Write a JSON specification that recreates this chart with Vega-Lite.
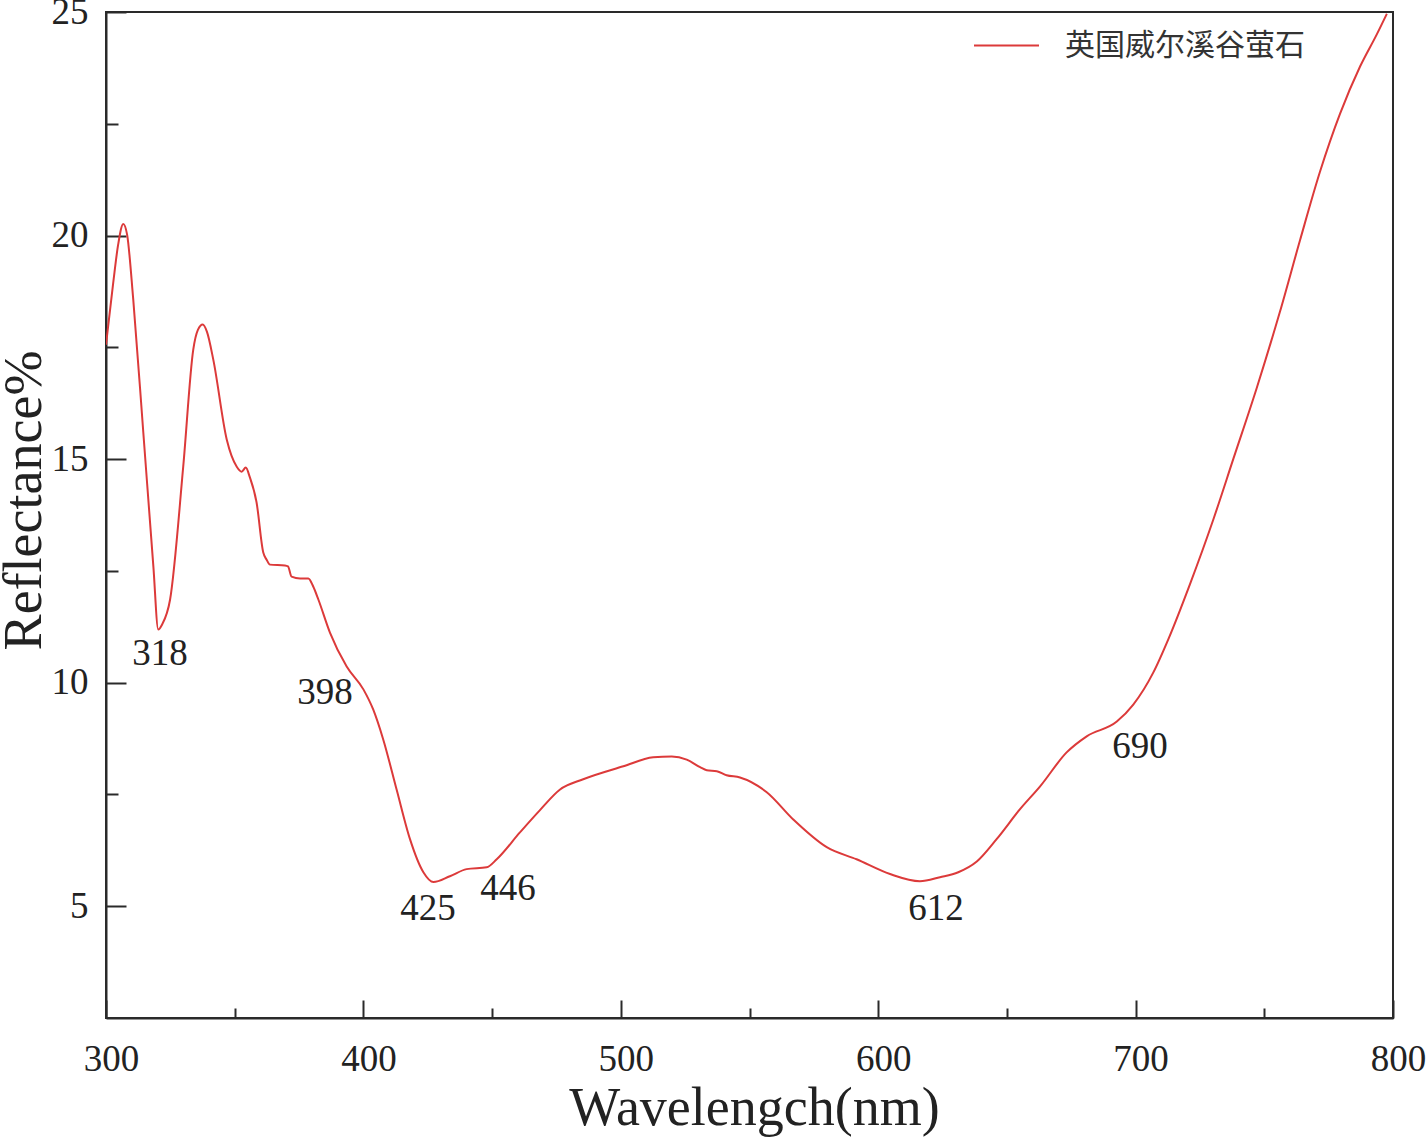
{
  "$schema": "https://vega.github.io/schema/vega-lite/v6.json",
  "width": 1287,
  "height": 1006,
  "autosize": {"type": "none"},
  "padding": {"left": 106, "top": 12, "right": 35, "bottom": 123},
  "background": "white",
  "config": {
    "view": {"stroke": "#2a2a2a", "strokeWidth": 2},
    "axis": {
      "domainColor": "#2a2a2a",
      "domainWidth": 2,
      "tickColor": "#2a2a2a",
      "tickWidth": 2,
      "grid": false,
      "labelFont": "Liberation Serif",
      "labelFontSize": 37,
      "labelColor": "#222222",
      "titleFont": "Liberation Serif",
      "titleFontSize": 54,
      "titleFontWeight": "normal",
      "titleColor": "#222222"
    }
  },
  "datasets": {
    "spectrum": [
      {"wl": 300.0, "r": 17.56, "series": "英国威尔溪谷萤石"},
      {"wl": 302.8, "r": 18.94, "series": "英国威尔溪谷萤石"},
      {"wl": 304.7, "r": 19.79, "series": "英国威尔溪谷萤石"},
      {"wl": 306.7, "r": 20.26, "series": "英国威尔溪谷萤石"},
      {"wl": 308.2, "r": 20.02, "series": "英国威尔溪谷萤石"},
      {"wl": 310.6, "r": 18.56, "series": "英国威尔溪谷萤石"},
      {"wl": 314.5, "r": 15.59, "series": "英国威尔溪谷萤石"},
      {"wl": 318.4, "r": 12.60, "series": "英国威尔溪谷萤石"},
      {"wl": 320.3, "r": 11.19, "series": "英国威尔溪谷萤石"},
      {"wl": 321.8, "r": 11.30, "series": "英国威尔溪谷萤石"},
      {"wl": 324.9, "r": 11.86, "series": "英国威尔溪谷萤石"},
      {"wl": 330.0, "r": 14.83, "series": "英国威尔溪谷萤石"},
      {"wl": 333.9, "r": 17.45, "series": "英国威尔溪谷萤石"},
      {"wl": 335.7, "r": 17.89, "series": "英国威尔溪谷萤石"},
      {"wl": 337.6, "r": 18.01, "series": "英国威尔溪谷萤石"},
      {"wl": 339.2, "r": 17.85, "series": "英国威尔溪谷萤石"},
      {"wl": 341.7, "r": 17.22, "series": "英国威尔溪谷萤石"},
      {"wl": 346.9, "r": 15.44, "series": "英国威尔溪谷萤石"},
      {"wl": 350.8, "r": 14.83, "series": "英国威尔溪谷萤石"},
      {"wl": 352.7, "r": 14.72, "series": "英国威尔溪谷萤石"},
      {"wl": 354.3, "r": 14.81, "series": "英国威尔溪谷萤石"},
      {"wl": 355.9, "r": 14.59, "series": "英国威尔溪谷萤石"},
      {"wl": 358.5, "r": 14.03, "series": "英国威尔溪谷萤石"},
      {"wl": 361.1, "r": 12.91, "series": "英国威尔溪谷萤石"},
      {"wl": 362.4, "r": 12.75, "series": "英国威尔溪谷萤石"},
      {"wl": 363.7, "r": 12.64, "series": "英国威尔溪谷萤石"},
      {"wl": 369.5, "r": 12.62, "series": "英国威尔溪谷萤石"},
      {"wl": 370.7, "r": 12.60, "series": "英国威尔溪谷萤石"},
      {"wl": 372.1, "r": 12.37, "series": "英国威尔溪谷萤石"},
      {"wl": 375.4, "r": 12.33, "series": "英国威尔溪谷萤石"},
      {"wl": 378.6, "r": 12.33, "series": "英国威尔溪谷萤石"},
      {"wl": 380.5, "r": 12.15, "series": "英国威尔溪谷萤石"},
      {"wl": 382.5, "r": 11.86, "series": "英国威尔溪谷萤石"},
      {"wl": 387.0, "r": 11.12, "series": "英国威尔溪谷萤石"},
      {"wl": 393.5, "r": 10.36, "series": "英国威尔溪谷萤石"},
      {"wl": 400.0, "r": 9.85, "series": "英国威尔溪谷萤石"},
      {"wl": 403.8, "r": 9.40, "series": "英国威尔溪谷萤石"},
      {"wl": 407.7, "r": 8.73, "series": "英国威尔溪谷萤石"},
      {"wl": 412.9, "r": 7.61, "series": "英国威尔溪谷萤石"},
      {"wl": 418.1, "r": 6.50, "series": "英国威尔溪谷萤石"},
      {"wl": 423.3, "r": 5.76, "series": "英国威尔溪谷萤石"},
      {"wl": 427.2, "r": 5.54, "series": "英国威尔溪谷萤石"},
      {"wl": 433.6, "r": 5.67, "series": "英国威尔溪谷萤石"},
      {"wl": 440.1, "r": 5.83, "series": "英国威尔溪谷萤石"},
      {"wl": 447.9, "r": 5.87, "series": "英国威尔溪谷萤石"},
      {"wl": 451.8, "r": 6.05, "series": "英国威尔溪谷萤石"},
      {"wl": 460.8, "r": 6.65, "series": "英国威尔溪谷萤石"},
      {"wl": 468.6, "r": 7.15, "series": "英国威尔溪谷萤石"},
      {"wl": 476.4, "r": 7.61, "series": "英国威尔溪谷萤石"},
      {"wl": 485.4, "r": 7.84, "series": "英国威尔溪谷萤石"},
      {"wl": 501.0, "r": 8.13, "series": "英国威尔溪谷萤石"},
      {"wl": 512.6, "r": 8.33, "series": "英国威尔溪谷萤石"},
      {"wl": 519.8, "r": 8.35, "series": "英国威尔溪谷萤石"},
      {"wl": 525.6, "r": 8.28, "series": "英国威尔溪谷萤石"},
      {"wl": 530.8, "r": 8.11, "series": "英国威尔溪谷萤石"},
      {"wl": 533.4, "r": 8.04, "series": "英国威尔溪谷萤石"},
      {"wl": 537.3, "r": 8.02, "series": "英国威尔溪谷萤石"},
      {"wl": 541.1, "r": 7.93, "series": "英国威尔溪谷萤石"},
      {"wl": 546.3, "r": 7.88, "series": "英国威尔溪谷萤石"},
      {"wl": 556.7, "r": 7.55, "series": "英国威尔溪谷萤石"},
      {"wl": 567.0, "r": 6.94, "series": "英国威尔溪谷萤石"},
      {"wl": 580.0, "r": 6.32, "series": "英国威尔溪谷萤石"},
      {"wl": 591.6, "r": 6.05, "series": "英国威尔溪谷萤石"},
      {"wl": 604.6, "r": 5.72, "series": "英国威尔溪谷萤石"},
      {"wl": 616.2, "r": 5.56, "series": "英国威尔溪谷萤石"},
      {"wl": 624.0, "r": 5.65, "series": "英国威尔溪谷萤石"},
      {"wl": 631.1, "r": 5.76, "series": "英国威尔溪谷萤石"},
      {"wl": 638.3, "r": 6.00, "series": "英国威尔溪谷萤石"},
      {"wl": 646.0, "r": 6.50, "series": "英国威尔溪谷萤石"},
      {"wl": 655.1, "r": 7.17, "series": "英国威尔溪谷萤石"},
      {"wl": 662.9, "r": 7.68, "series": "英国威尔溪谷萤石"},
      {"wl": 673.2, "r": 8.44, "series": "英国威尔溪谷萤石"},
      {"wl": 681.0, "r": 8.80, "series": "英国威尔溪谷萤石"},
      {"wl": 692.7, "r": 9.13, "series": "英国威尔溪谷萤石"},
      {"wl": 699.1, "r": 9.51, "series": "英国威尔溪谷萤石"},
      {"wl": 706.9, "r": 10.23, "series": "英国威尔溪谷萤石"},
      {"wl": 712.7, "r": 10.97, "series": "英国威尔溪谷萤石"},
      {"wl": 721.1, "r": 12.20, "series": "英国威尔溪谷萤石"},
      {"wl": 730.2, "r": 13.65, "series": "英国威尔溪谷萤石"},
      {"wl": 738.0, "r": 15.01, "series": "英国威尔溪谷萤石"},
      {"wl": 747.0, "r": 16.58, "series": "英国威尔溪谷萤石"},
      {"wl": 756.1, "r": 18.30, "series": "英国威尔溪谷萤石"},
      {"wl": 763.9, "r": 19.90, "series": "英国威尔溪谷萤石"},
      {"wl": 771.6, "r": 21.42, "series": "英国威尔溪谷萤石"},
      {"wl": 779.4, "r": 22.72, "series": "英国威尔溪谷萤石"},
      {"wl": 787.2, "r": 23.78, "series": "英国威尔溪谷萤石"},
      {"wl": 793.7, "r": 24.50, "series": "英国威尔溪谷萤石"},
      {"wl": 797.6, "r": 24.96, "series": "英国威尔溪谷萤石"}
    ],
    "labels": [
      {"wl": 321.0, "r": 10.63, "text": "318"},
      {"wl": 385.1, "r": 9.78, "text": "398"},
      {"wl": 425.1, "r": 4.93, "text": "425"},
      {"wl": 456.2, "r": 5.38, "text": "446"},
      {"wl": 622.5, "r": 4.93, "text": "612"},
      {"wl": 701.7, "r": 8.55, "text": "690"}
    ]
  },
  "layer": [
    {
      "data": {"name": "spectrum"},
      "mark": {"type": "line", "strokeWidth": 2, "interpolate": "monotone", "clip": true},
      "encoding": {
        "x": {
          "field": "wl", "type": "quantitative",
          "scale": {"domain": [300, 800], "nice": false, "zero": false},
          "axis": {
            "title": "Wavelengch(nm)",
            "values": [300, 350, 400, 450, 500, 550, 600, 650, 700, 750, 800],
            "labelExpr": "datum.value % 100 === 0 ? datum.label : ''",
            "tickSize": {"condition": {"test": "datum.value % 100 === 0", "value": -18}, "value": -10},
            "labelPadding": 41,
            "labelFlush": false,
            "labelOffset": 5,
            "titleX": 648,
            "titleY": 106,
            "titleBaseline": "alphabetic"
          }
        },
        "y": {
          "field": "r", "type": "quantitative",
          "scale": {"domain": [2.5, 25], "nice": false, "zero": false},
          "axis": {
            "title": "Reflectance%",
            "values": [5, 7.5, 10, 12.5, 15, 17.5, 20, 22.5, 25],
            "labelExpr": "datum.value % 5 === 0 ? datum.label : ''",
            "tickSize": {"condition": {"test": "datum.value % 5 === 0", "value": -20}, "value": -12},
            "labelPadding": 38,
            "titleX": -66,
            "titleY": 488,
            "titleBaseline": "alphabetic",
            "titleAngle": -90
          }
        },
        "color": {
          "field": "series", "type": "nominal",
          "scale": {"range": ["#dc3a3a"]},
          "legend": {
            "title": null,
            "orient": "none",
            "legendX": 867,
            "legendY": 0,
            "padding": 0,
            "symbolType": "stroke",
            "symbolSize": 4225,
            "symbolStrokeWidth": 2,
            "labelFont": "Noto Sans CJK SC",
            "labelFontSize": 30,
            "labelColor": "#333333",
            "labelOffset": 25,
            "labelLimit": 0
          }
        }
      }
    },
    {
      "data": {"name": "labels"},
      "mark": {"type": "text", "font": "Liberation Serif", "fontSize": 37, "color": "#222222", "align": "center", "baseline": "middle"},
      "encoding": {
        "x": {"field": "wl", "type": "quantitative"},
        "y": {"field": "r", "type": "quantitative"},
        "text": {"field": "text"}
      }
    }
  ]
}
